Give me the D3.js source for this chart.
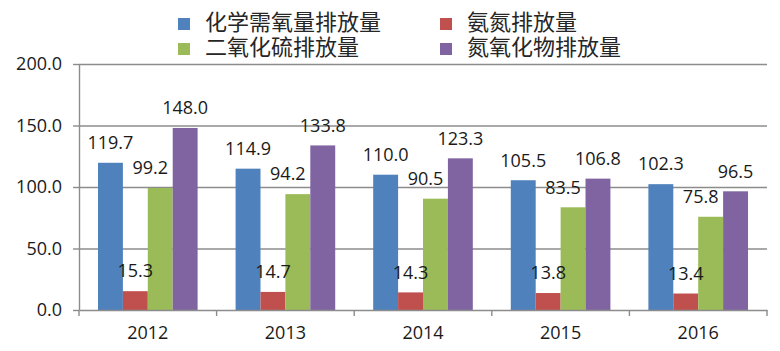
<!DOCTYPE html>
<html>
<head>
<meta charset="utf-8">
<script src="https://cdn.jsdelivr.net/npm/d3@7"></script>
<style>
  body { margin: 0; background: #fff; }
  .axis path, .axis line { stroke: #8c8c8c; stroke-width: 1.4; }
  .axis text { font-family: "Open Sans", "Noto Sans", sans-serif; font-size: 18px; fill: #1a1a1a; }
  .grid line { stroke: #8c8c8c; stroke-width: 1.4; }
  .grid path { display: none; }
  .lbl { font-family: "Open Sans", "Noto Sans", sans-serif; font-size: 18px; fill: #1a1a1a; }
  .legend text { font-family: "Noto Sans CJK SC", sans-serif; font-size: 22px; fill: #262626; }
</style>
</head>
<body>
<div class="chart"></div>
<script>
// data
const years = ['2012', '2013', '2014', '2015', '2016'];
const seriesNames = ['化学需氧量排放量', '氨氮排放量', '二氧化硫排放量', '氮氧化物排放量'];
const codValues = [119.7, 114.9, 110.0, 105.5, 102.3];
const nh3Values = [15.3, 14.7, 14.3, 13.8, 13.4];
const so2Values = [99.2, 94.2, 90.5, 83.5, 75.8];
const noxValues = [148.0, 133.8, 123.3, 106.8, 96.5];
const yTicks = [0, 50, 100, 150, 200];

const seriesValues = [codValues, nh3Values, so2Values, noxValues];
const colors = ['#4f81bd', '#c0504d', '#9bbb59', '#8064a2'];
const labelDx = [0, 0, -10, 0]; // 綠色標籤稍微往左

// svg
const svg_width = 780, svg_height = 351;
const margin = {top: 64, right: 13, bottom: 41, left: 79};
const chart_width = svg_width - margin.left - margin.right;
const chart_height = svg_height - margin.top - margin.bottom;

const svg = d3.select('.chart').append('svg')
    .attr('width', svg_width).attr('height', svg_height);
const g = svg.append('g').attr('transform', `translate(${margin.left},${margin.top})`);

// scales
const x0 = d3.scaleBand().domain(years).range([0, chart_width])
    .paddingInner(0.276).paddingOuter(0.138);
const x1 = d3.scaleBand().domain(d3.range(seriesNames.length)).range([0, x0.bandwidth()]);
const y = d3.scaleLinear().domain([0, 200]).range([chart_height, 0]);

// gridlines
g.append('g').attr('class', 'grid')
    .call(d3.axisLeft(y).tickValues(yTicks.slice(1)).tickSize(-chart_width).tickFormat(''));

// bars
const rows = years.map((yr, i) => ({year: yr, vals: seriesValues.map(s => s[i])}));
const groups = g.selectAll('.grp').data(rows).join('g').attr('class', 'grp')
    .attr('transform', d => `translate(${x0(d.year)},0)`);

groups.selectAll('rect').data(d => d.vals).join('rect')
    .attr('x', (d, i) => x1(i))
    .attr('width', x1.bandwidth())
    .attr('y', d => y(d))
    .attr('height', d => chart_height - y(d))
    .attr('fill', (d, i) => colors[i]);

groups.selectAll('text').data(d => d.vals).join('text').attr('class', 'lbl')
    .attr('x', (d, i) => x1(i) + x1.bandwidth() / 2 + labelDx[i])
    .attr('y', d => y(d) - 20)
    .attr('dy', '0.35em')
    .attr('text-anchor', 'middle')
    .text(d => d.toFixed(1));

// y axis
const yAxis = g.append('g').attr('class', 'axis')
    .call(d3.axisLeft(y).tickValues(yTicks).tickSize(6).tickSizeOuter(0).tickFormat(d3.format('.1f')));
yAxis.selectAll('text').attr('x', -17);

// x axis
const xAxis = g.append('g').attr('class', 'axis')
    .attr('transform', `translate(0,${chart_height})`)
    .call(d3.axisBottom(x0).tickSize(0).tickSizeOuter(0));
xAxis.selectAll('text').attr('dy', '1.45em');
xAxis.selectAll('.bnd').data(d3.range(years.length + 1)).join('line').attr('class', 'bnd')
    .attr('x1', i => i * x0.step()).attr('x2', i => i * x0.step())
    .attr('y1', 0).attr('y2', 6);

// legend
const legend = svg.append('g').attr('class', 'legend');
const legPos = [[178, 24], [440, 24], [178, 49], [440, 49]];
seriesNames.forEach((name, i) => {
    const [lx, ly] = legPos[i];
    legend.append('rect').attr('x', lx).attr('y', ly - 6).attr('width', 12).attr('height', 12)
        .attr('fill', colors[i]);
    legend.append('text').attr('x', lx + 27).attr('y', ly - 2).attr('dy', '0.35em').text(name);
});
</script>
</body>
</html>
